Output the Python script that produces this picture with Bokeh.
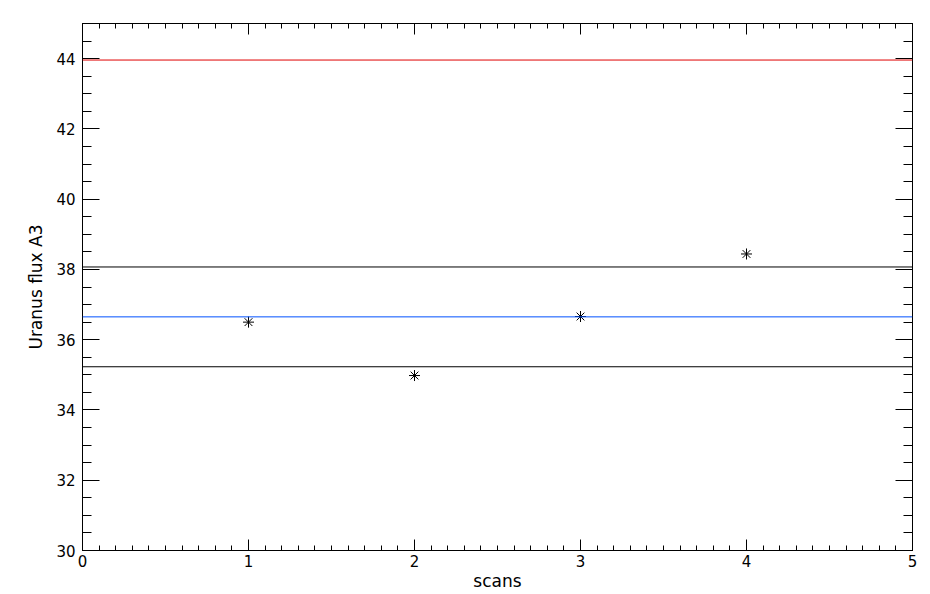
from bokeh.plotting import figure
from bokeh.models import Range1d, LinearAxis, SingleIntervalTicker, Span, CustomJSTickFormatter
from bokeh.embed import file_html
from bokeh.resources import INLINE

# data
scans = [1, 2, 3, 4]
flux = [36.50, 34.98, 36.66, 38.44]
mean_flux = 36.65
upper_flux = 38.07
lower_flux = 35.23
red_level = 43.96

FONT = "DejaVu Sans"

p = figure(width=930, height=594, output_backend="svg", toolbar_location=None,
           x_range=Range1d(0, 5), y_range=Range1d(30, 45),
           min_border_left=82, min_border_right=18, min_border_top=23, min_border_bottom=44,
           x_axis_location=None, y_axis_location=None)
p.grid.visible = False
p.outline_line_color = "black"
p.outline_line_width = 1
p.background_fill_color = "white"
p.border_fill_color = "white"

def style(ax, major_in, minor_in, labels=True):
    ax.major_tick_in = major_in
    ax.major_tick_out = 0
    ax.minor_tick_in = minor_in
    ax.minor_tick_out = 0
    ax.axis_line_color = "black"
    ax.major_tick_line_color = "black"
    ax.minor_tick_line_color = "black"
    ax.major_label_text_font = FONT
    ax.major_label_text_font_size = "15px"
    ax.major_label_text_color = "black"
    ax.axis_label_text_font = FONT
    ax.axis_label_text_font_size = "17px"
    ax.axis_label_text_font_style = "normal"
    ax.axis_label_text_color = "black"
    if not labels:
        ax.formatter = CustomJSTickFormatter(code="return ''")
        ax.major_label_standoff = 0

xt = SingleIntervalTicker(interval=1, num_minor_ticks=10)
yt = SingleIntervalTicker(interval=2, num_minor_ticks=4)

xb = LinearAxis(ticker=xt, axis_label="scans")
style(xb, 11, 5)
xb.major_label_standoff = 4
xb.axis_label_standoff = 1
p.add_layout(xb, "below")

xa = LinearAxis(ticker=SingleIntervalTicker(interval=1, num_minor_ticks=10))
style(xa, 11, 5, labels=False)
p.add_layout(xa, "above")

yl = LinearAxis(ticker=yt, axis_label="Uranus flux A3")
style(yl, 17, 9)
yl.major_label_standoff = 7
yl.axis_label_standoff = 7
p.add_layout(yl, "left")

yr = LinearAxis(ticker=SingleIntervalTicker(interval=2, num_minor_ticks=4))
style(yr, 17, 9, labels=False)
p.add_layout(yr, "right")

p.add_layout(Span(location=red_level, dimension="width", line_color="#e00000", line_width=1))
p.add_layout(Span(location=upper_flux, dimension="width", line_color="black", line_width=1))
p.add_layout(Span(location=lower_flux, dimension="width", line_color="black", line_width=1))
p.add_layout(Span(location=mean_flux, dimension="width", line_color="#0050ff", line_width=1))

p.scatter(scans, flux, marker="asterisk", size=11, line_color="black", line_width=1)

open("out.html", "w").write(file_html(p, INLINE))
